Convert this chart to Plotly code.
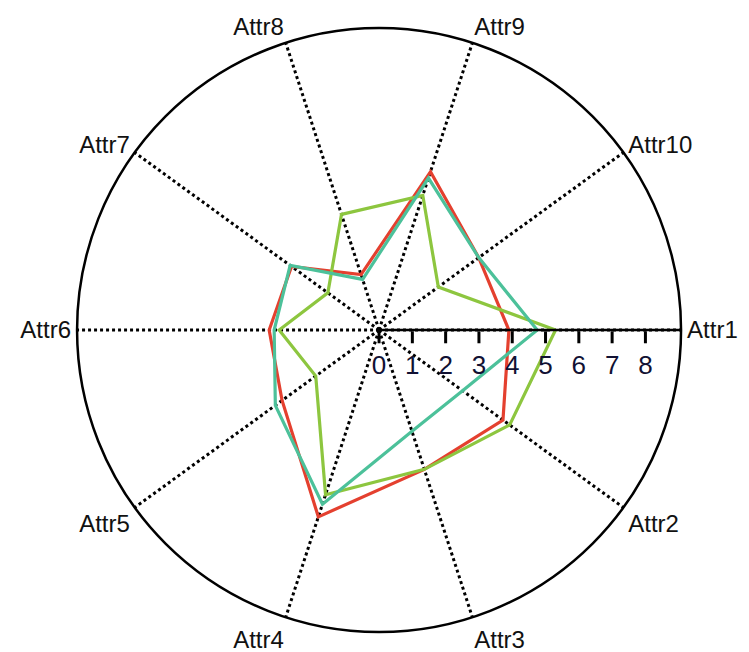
import plotly.graph_objects as go

attrs = ["Attr1", "Attr2", "Attr3", "Attr4", "Attr5", "Attr6", "Attr7", "Attr8", "Attr9", "Attr10"]
red_vals = [3.9, 4.6, 4.4, 5.9, 3.6, 3.3, 3.25, 1.75, 5.0, 3.7]
green_vals = [5.3, 4.85, 4.4, 5.2, 2.35, 3.0, 1.9, 3.65, 4.25, 2.2]
teal_vals = [4.75, 3.1, 3.2, 5.5, 3.85, 3.15, 3.3, 1.6, 4.8, 3.7]
radial_ticks = [0, 1, 2, 3, 4, 5, 6, 7, 8]

series = [
    ("A", red_vals, "#e4402f"),
    ("B", green_vals, "#8dc63f"),
    ("C", teal_vals, "#4cc19a"),
]

fig = go.Figure()
for name, vals, col in series:
    fig.add_trace(go.Scatterpolar(
        r=vals + vals[:1],
        theta=attrs + attrs[:1],
        mode="lines",
        line=dict(color=col, width=3.2),
        name=name,
        showlegend=False,
    ))

font_family = "Liberation Sans, Arial, sans-serif"

fig.update_layout(
    width=749, height=652,
    margin=dict(l=0, r=0, t=0, b=0),
    paper_bgcolor="white",
    plot_bgcolor="white",
    polar=dict(
        domain=dict(x=[0.0922, 0.8986], y=[0.0429, 0.9693]),
        bgcolor="white",
        angularaxis=dict(
            type="category",
            categoryarray=attrs,
            rotation=0,
            direction="clockwise",
            showline=True,
            linecolor="black",
            linewidth=2.5,
            showgrid=True,
            gridcolor="black",
            gridwidth=2.5,
            griddash="dot",
            ticks="",
            tickfont=dict(family=font_family, size=24, color="#111111"),
        ),
        radialaxis=dict(
            range=[0, 9.07],
            angle=0,
            side="clockwise",
            showgrid=False,
            showline=True,
            linecolor="black",
            linewidth=2.5,
            ticks="outside",
            ticklen=12,
            tickwidth=2.5,
            tickcolor="black",
            tickvals=radial_ticks,
            ticktext=[str(t) for t in radial_ticks],
            tickangle=0,
            tickfont=dict(family=font_family, size=26, color="#111133"),
        ),
    ),
)

fig.write_html("out.html")
